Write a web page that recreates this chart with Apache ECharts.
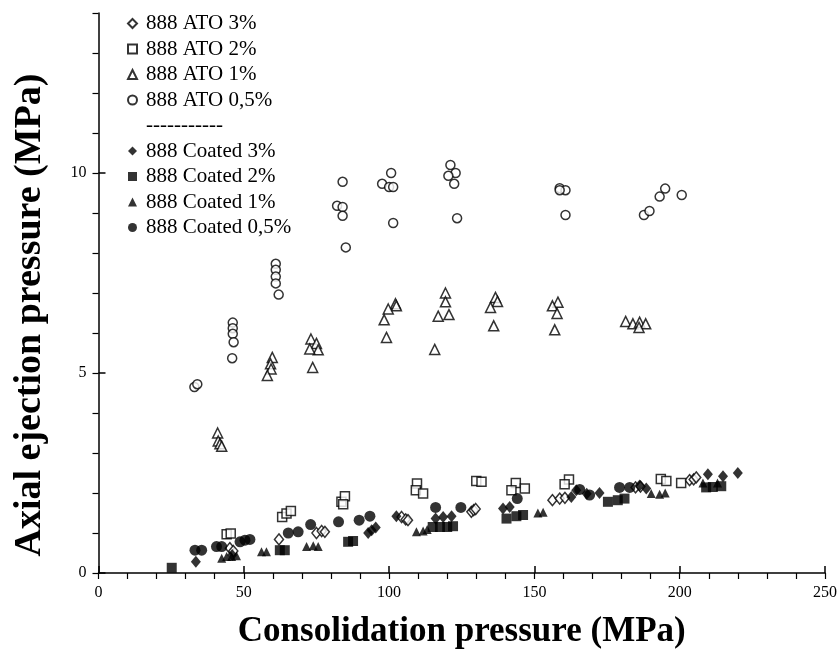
<!DOCTYPE html>
<html>
<head>
<meta charset="utf-8">
<script src="https://cdn.jsdelivr.net/npm/echarts@6/dist/echarts.min.js"></script>
<style>html,body{margin:0;padding:0;background:#fff}#c{width:840px;height:654px}</style>
</head>
<body>
<div id="c"></div>
<script>
const xTickLabels = [0, 50, 100, 150, 200, 250];
const yTickLabels = [0, 5, 10];
const xTitle = 'Consolidation pressure (MPa)';
const yTitle = 'Axial ejection pressure (MPa)';
const seriesNames = ['888 ATO 3%', '888 ATO 2%', '888 ATO 1%', '888 ATO 0,5%', '888 Coated 3%', '888 Coated 2%', '888 Coated 1%', '888 Coated 0,5%'];
const separatorLabel = '-----------';

const ato3 = [[45.2,0.62],[46.4,0.55],[62.1,0.84],[75,1.0],[76.8,1.05],[77.9,1.03],[104.3,1.4],[105.7,1.34],[106.5,1.32],[128.3,1.53],[129.1,1.57],[129.8,1.6],[156.2,1.82],[158.7,1.86],[160.5,1.88],[184.8,2.14],[186.5,2.16],[203.4,2.32],[204.8,2.34],[205.7,2.39]];
const ato2 = [[44.1,0.97],[45.5,0.99],[63.2,1.4],[64.7,1.49],[66.2,1.55],[83.6,1.78],[84.8,1.92],[84.2,1.72],[109.6,2.24],[109.2,2.07],[111.7,1.99],[130,2.3],[131.8,2.28],[143.6,2.25],[142.1,2.07],[146.7,2.11],[161.9,2.34],[160.4,2.22],[193.5,2.35],[195.4,2.3],[200.5,2.25]];
const ato1 = [[41,3.5],[41.2,3.3],[41.8,3.23],[42.4,3.17],[59.8,5.39],[59.2,5.23],[59.4,5.1],[58.1,4.94],[73.1,5.85],[75,5.74],[75.6,5.58],[72.7,5.6],[73.7,5.14],[102.2,6.73],[102.5,6.68],[99.7,6.6],[98.3,6.33],[99.1,5.89],[119.4,7.0],[119.4,6.78],[116.9,6.42],[120.6,6.46],[115.7,5.59],[136.6,6.89],[137.3,6.79],[134.9,6.64],[136,6.18],[158.1,6.77],[156.2,6.68],[157.8,6.49],[157,6.08],[181.4,6.29],[183.9,6.23],[186.2,6.27],[188.3,6.23],[186,6.14]];
const ato05 = [[33,4.65],[34,4.72],[46.2,6.26],[46.2,6.12],[46.2,5.98],[46.5,5.77],[46,5.37],[61,7.73],[61,7.58],[61,7.41],[61,7.24],[62,6.96],[84,9.78],[82.1,9.18],[84,9.15],[84,8.93],[85.1,8.14],[97.6,9.73],[100,9.65],[101.4,9.65],[100.7,10.0],[101.4,8.75],[121.1,10.2],[122.9,10.0],[120.4,9.93],[122.4,9.73],[123.4,8.87],[158.7,9.62],[160.7,9.57],[158.7,9.57],[160.7,8.95],[187.7,8.95],[189.6,9.05],[193.1,9.41],[195,9.61],[200.7,9.45]];
const coated3 = [[33.5,0.28],[46,0.45],[92.8,1.0],[94,1.07],[95.4,1.14],[102.5,1.42],[116,1.36],[118.6,1.4],[121.5,1.42],[139.2,1.61],[141.5,1.65],[162.7,1.9],[164.4,2.07],[168,1.98],[172.4,2.0],[186.2,2.19],[188.5,2.11],[209.7,2.47],[214.9,2.42],[220,2.5]];
const coated2 = [[25.2,0.13],[62.4,0.57],[64.1,0.57],[85.9,0.78],[87.6,0.8],[115,1.15],[117.5,1.15],[120,1.15],[122,1.17],[140.4,1.36],[143.8,1.42],[146.1,1.45],[175.3,1.78],[178.7,1.82],[181,1.86],[209.1,2.14],[211.4,2.15],[214.3,2.17]];
const coated1 = [[42.4,0.37],[44.1,0.41],[45.8,0.41],[47.5,0.43],[56.1,0.53],[57.8,0.53],[71.6,0.66],[73.9,0.68],[75.6,0.66],[109.4,1.03],[111.7,1.05],[113.1,1.09],[151.2,1.5],[153,1.52],[190.2,1.99],[193.1,1.97],[195,2.0],[208,2.25],[213,2.25]];
const coated05 = [[33.2,0.57],[35.5,0.57],[40.6,0.66],[42.4,0.66],[48.7,0.78],[50.4,0.82],[52.1,0.84],[65.3,1.0],[68.7,1.03],[73,1.21],[82.6,1.28],[89.7,1.32],[93.4,1.42],[116,1.64],[124.7,1.64],[144.1,1.86],[165.6,2.09],[169,1.95],[179.3,2.14],[182.8,2.14]];

const FONT = '"Liberation Serif", "Times New Roman", serif';
const openStyle = {color: '#fff', borderColor: '#000', borderWidth: 1.5};
const fillStyle = {color: '#000', borderColor: '#000', borderWidth: 0};

function sc(name, data, symbol, size, style) {
  return {type: 'scatter', name: name, data: data, symbol: symbol, symbolSize: size,
    itemStyle: style, emphasis: {disabled: true}, xAxisIndex: 0, yAxisIndex: 0, z: 3};
}

const series = [
  sc(seriesNames[0], ato3, 'diamond', [9, 11], openStyle),
  sc(seriesNames[1], ato2, 'rect', 9, openStyle),
  sc(seriesNames[2], ato1, 'triangle', 10, openStyle),
  sc(seriesNames[3], ato05, 'circle', 9, openStyle),
  {type: 'scatter', name: separatorLabel, data: [], symbol: 'none'},
  sc(seriesNames[4], coated3, 'diamond', [10, 12], fillStyle),
  sc(seriesNames[5], coated2, 'rect', 10, fillStyle),
  sc(seriesNames[6], coated1, 'triangle', 9, fillStyle),
  sc(seriesNames[7], coated05, 'circle', 11, fillStyle)
];

const legendData = [seriesNames[0], seriesNames[1], seriesNames[2], seriesNames[3],
  {name: separatorLabel, itemStyle: {opacity: 0}},
  seriesNames[4], seriesNames[5], seriesNames[6], seriesNames[7]];

const axisLine = {show: true, lineStyle: {color: '#000', width: 1.5}};

const chart = echarts.init(document.getElementById('c'), null, {renderer: 'canvas'});
chart.setOption({
  animation: false,
  backgroundColor: '#fff',
  textStyle: {fontFamily: FONT},
  grid: {left: 98.5, right: 13.5, top: 13, bottom: 81, containLabel: false},
  legend: {
    data: legendData, orient: 'vertical', left: 122, top: 8,
    itemWidth: 9, itemHeight: 9, itemGap: 4.5, selectedMode: false,
    textStyle: {fontFamily: FONT, fontSize: 21, color: '#000', lineHeight: 21, padding: [0, 0, 0, 4]}
  },
  graphic: [{
    type: 'text', x: 30, y: 315, rotation: Math.PI / 2,
    style: {text: yTitle, fontFamily: FONT, fontSize: 38, fontWeight: 'bold', fill: '#000',
      align: 'center', verticalAlign: 'middle'}
  }],
  xAxis: [{
    type: 'value', min: 0, max: 250, interval: 10, position: 'bottom',
    name: xTitle, nameLocation: 'middle', nameGap: 41,
    nameTextStyle: {fontFamily: FONT, fontSize: 35, fontWeight: 'bold', color: '#000'},
    axisLine: axisLine,
    axisTick: {show: true, inside: false, length: 6, lineStyle: {color: '#000', width: 1.2}},
    axisLabel: {customValues: xTickLabels, fontFamily: FONT, fontSize: 16, color: '#000', margin: 12},
    splitLine: {show: false}
  }, {
    type: 'value', min: 0, max: 250, position: 'bottom', gridIndex: 0,
    axisLine: {show: false},
    axisTick: {show: true, inside: true, length: 7, customValues: xTickLabels, lineStyle: {color: '#000', width: 1.5}},
    axisLabel: {show: false}, splitLine: {show: false}
  }],
  yAxis: [{
    type: 'value', min: 0, max: 14, interval: 1, position: 'left',
    axisLine: axisLine,
    axisTick: {show: true, inside: false, length: 6, lineStyle: {color: '#000', width: 1.2}},
    axisLabel: {customValues: yTickLabels, fontFamily: FONT, fontSize: 16, color: '#000', margin: 12},
    splitLine: {show: false}
  }, {
    type: 'value', min: 0, max: 14, position: 'left', gridIndex: 0,
    axisLine: {show: false},
    axisTick: {show: true, inside: true, length: 7, customValues: yTickLabels, lineStyle: {color: '#000', width: 1.5}},
    axisLabel: {show: false}, splitLine: {show: false}
  }],
  series: series
});
</script>
</body>
</html>
